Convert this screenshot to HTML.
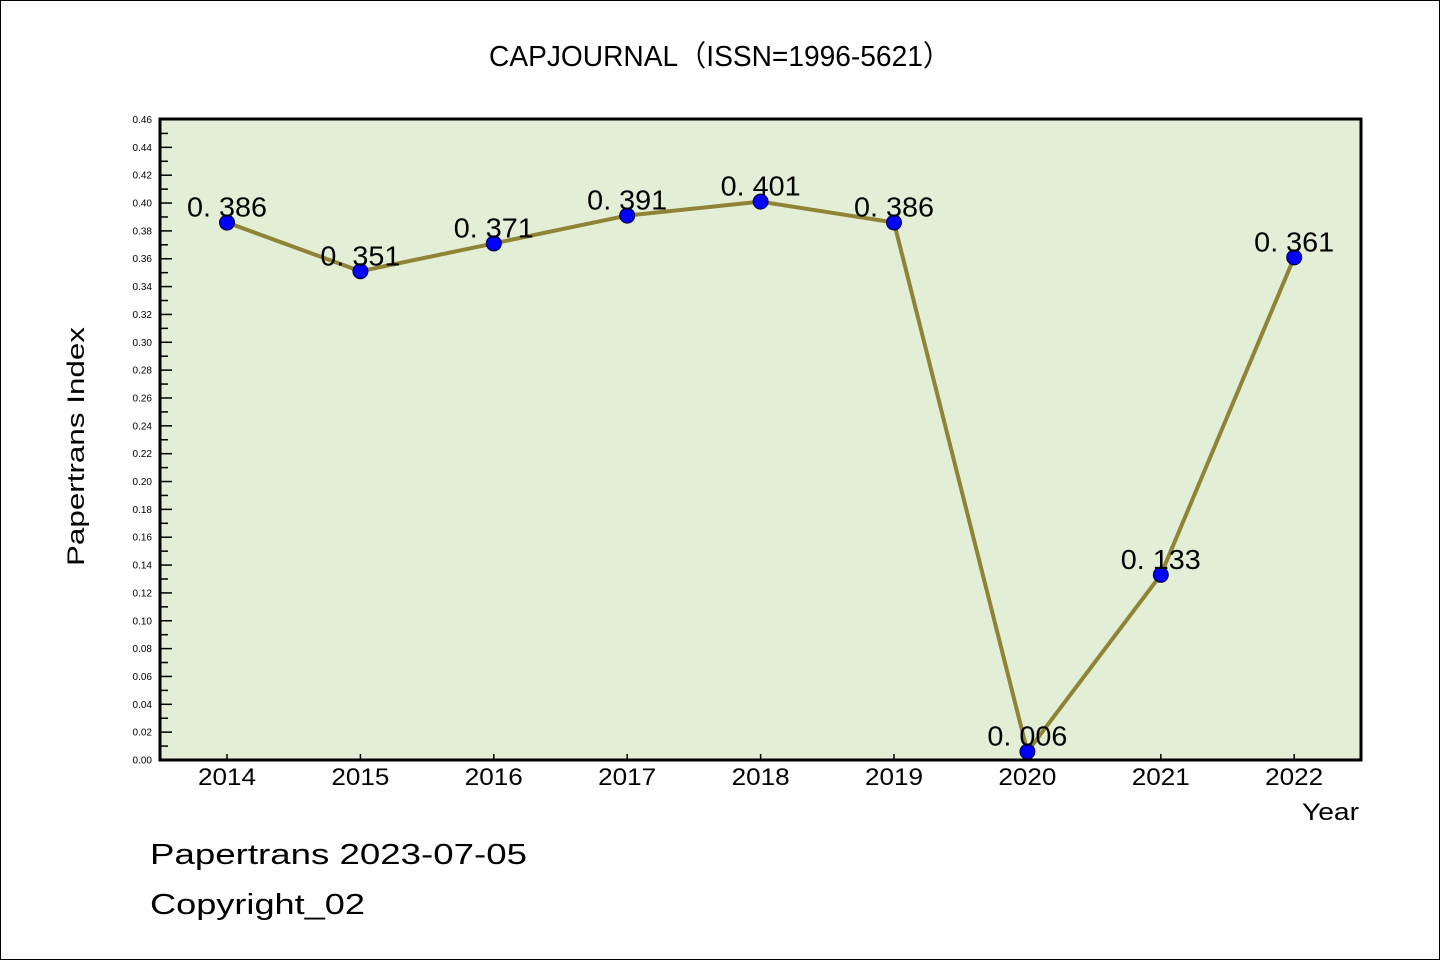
<!DOCTYPE html>
<html><head><meta charset="utf-8"><style>
html,body{margin:0;padding:0;background:#fff}
svg{display:block}
text{font-family:"WenQuanYi Zen Hei","Liberation Sans",sans-serif}
</style></head><body>
<svg id="chart" width="1440" height="960" xmlns="http://www.w3.org/2000/svg">
<rect x="0.5" y="0.5" width="1439" height="959" fill="#fff" stroke="#000"/>
<text x="489" y="66" font-size="29" textLength="462" lengthAdjust="spacingAndGlyphs">CAPJOURNAL（ISSN=1996-5621）</text>
<rect x="160" y="119" width="1201" height="641" fill="#e2efd6"/>
<g id="yaxis"></g>
<g id="xaxis"></g>
<g id="series"></g>
<rect x="160" y="119" width="1201" height="641" fill="none" stroke="#000" stroke-width="3"/>
<text transform="translate(84,566) rotate(-90)" font-size="24" textLength="239" lengthAdjust="spacingAndGlyphs">Papertrans Index</text>
<text x="1302" y="820" font-size="24" textLength="57" lengthAdjust="spacingAndGlyphs">Year</text>
<text x="150" y="864" font-size="29" textLength="377" lengthAdjust="spacingAndGlyphs">Papertrans 2023-07-05</text>
<text x="150" y="914" font-size="29" textLength="215" lengthAdjust="spacingAndGlyphs">Copyright_02</text>
</svg>
<script>
const years = ["2014","2015","2016","2017","2018","2019","2020","2021","2022"];
const values = [0.386,0.351,0.371,0.391,0.401,0.386,0.006,0.133,0.361];
const valueLabels = ["0. 386","0. 351","0. 371","0. 391","0. 401","0. 386","0. 006","0. 133","0. 361"];
const yMax = 0.46;
const NS="http://www.w3.org/2000/svg";
const x0=227, xStep=133.4, yBottom=760, yTop=119.5;
function xs(i){return x0+i*xStep;}
function ys(v){return yBottom-(v/yMax)*(yBottom-yTop);}
function mk(tag,attrs,parent){const e=document.createElementNS(NS,tag);for(const k in attrs)e.setAttribute(k,attrs[k]);parent.appendChild(e);return e;}
const ya=document.getElementById('yaxis');
for(let k=0;k<=46;k++){
  const v=k*0.01, y=ys(v), major=k%2===0;
  const t=mk('line',{x1:160,x2:major?172:168,y1:y,y2:y,stroke:'#000','stroke-width':1.5},ya);
  
  
  if(major){
    const l=mk('text',{x:152,y:y+3.5,'text-anchor':'end','font-size':10,style:'font-family:"Liberation Sans",sans-serif'},ya);
    l.textContent=v.toFixed(2);
    
    
  }
}
const xa=document.getElementById('xaxis');
years.forEach((yr,i)=>{
  const t=mk('line',{x1:xs(i),x2:xs(i),y1:760,y2:754,stroke:'#000','stroke-width':1.5},xa);
  
  
  const l=mk('text',{x:xs(i)-29,y:785,'font-size':24,textLength:58,lengthAdjust:'spacingAndGlyphs'},xa);
  l.textContent=yr;
  
  
});
const sg=document.getElementById('series');
const pts=values.map((v,i)=>xs(i)+','+ys(v)).join(' ');
const pl=mk('polyline',{points:pts,fill:'none',stroke:'#8f8335','stroke-width':4,'stroke-linejoin':'round'},sg);


values.forEach((v,i)=>{
  const c=mk('circle',{cx:xs(i),cy:ys(v),r:7.5,fill:'#0000ff',stroke:'#000033','stroke-width':1},sg);
  
  
  const l=mk('text',{x:xs(i)-40,y:ys(v)-6,'font-size':28,textLength:80,lengthAdjust:'spacingAndGlyphs'},sg);
  l.textContent=valueLabels[i];
  
  
});
</script>
</body></html>
